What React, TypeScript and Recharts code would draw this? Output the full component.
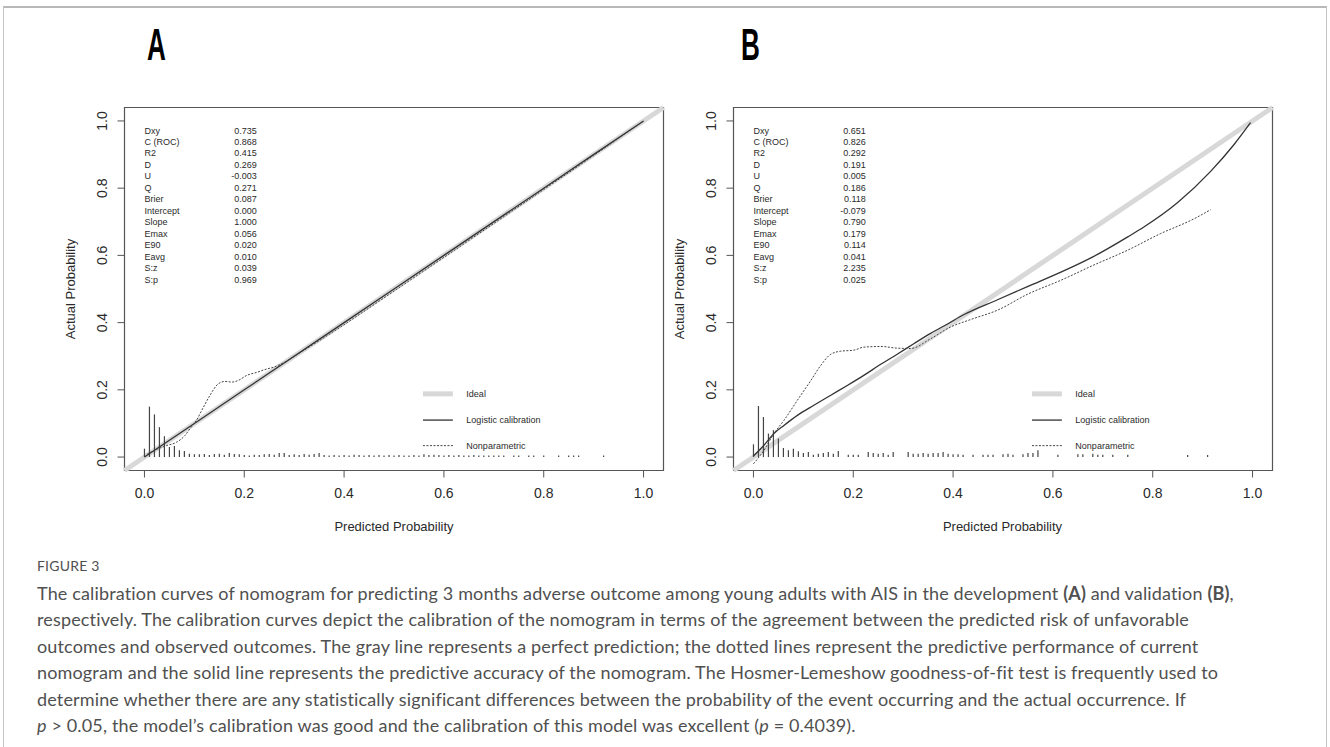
import React from "react";
import {
  ComposedChart,
  Line,
  XAxis,
  YAxis,
  ReferenceArea,
  ReferenceLine,
  ReferenceDot,
} from "recharts";

const ticks = [0, 0.2, 0.4, 0.6, 0.8, 1.0];

const statNames = ["Dxy", "C (ROC)", "R2", "D", "U", "Q", "Brier", "Intercept", "Slope", "Emax", "E90", "Eavg", "S:z", "S:p"];
const statsA = ["0.735", "0.868", "0.415", "0.269", "-0.003", "0.271", "0.087", "0.000", "1.000", "0.056", "0.020", "0.010", "0.039", "0.969"];
const statsB = ["0.651", "0.826", "0.292", "0.191", "0.005", "0.186", "0.118", "-0.079", "0.790", "0.179", "0.114", "0.041", "2.235", "0.025"];

const legendNames = ["Ideal", "Logistic calibration", "Nonparametric"];

// panel A (development)
const logisticAX = [0, 0.2, 0.4, 0.6, 0.8, 1.0];
const logisticAY = [0, 0.2, 0.4, 0.6, 0.8, 1.0];
const loessAX = [0.005, 0.02, 0.044, 0.064, 0.081, 0.091, 0.104, 0.118, 0.131, 0.148, 0.161, 0.175, 0.188, 0.205, 0.225, 0.245, 0.258, 0.278, 0.32, 0.4, 0.5, 0.6, 0.7, 0.8, 0.9, 1.0];
const loessAY = [0.008, 0.02, 0.034, 0.044, 0.064, 0.084, 0.109, 0.148, 0.183, 0.218, 0.225, 0.223, 0.228, 0.243, 0.252, 0.262, 0.267, 0.28, 0.318, 0.394, 0.494, 0.594, 0.695, 0.796, 0.897, 1.0];
const spikeAX = [
  0.0, 0.01, 0.02, 0.03, 0.04, 0.05, 0.06, 0.07, 0.08, 0.09, 0.1, 0.11, 0.12, 0.13, 0.14, 0.15, 0.16, 0.17, 0.18, 0.19,
  0.2, 0.21, 0.22, 0.23, 0.24, 0.25, 0.26, 0.27, 0.28, 0.29, 0.3, 0.31, 0.32, 0.33, 0.34, 0.35, 0.36, 0.37, 0.38, 0.39,
  0.4, 0.41, 0.42, 0.43, 0.44, 0.45, 0.46, 0.47, 0.48, 0.49, 0.5, 0.51, 0.52, 0.53, 0.54, 0.55, 0.56, 0.57, 0.58, 0.59,
  0.6, 0.61, 0.62, 0.63, 0.64, 0.65, 0.66, 0.67, 0.68, 0.69, 0.7, 0.71, 0.72, 0.74, 0.75, 0.77, 0.78, 0.8, 0.83, 0.85,
  0.86, 0.87, 0.92,
];
const spikeAH = [
  0.025, 0.15, 0.127, 0.089, 0.062, 0.03, 0.033, 0.02, 0.018, 0.01, 0.008, 0.008, 0.009, 0.006, 0.009, 0.01, 0.007, 0.012, 0.009, 0.008,
  0.006, 0.005, 0.007, 0.006, 0.008, 0.009, 0.007, 0.012, 0.012, 0.006, 0.008, 0.006, 0.009, 0.007, 0.009, 0.012, 0.006, 0.005, 0.006, 0.005,
  0.006, 0.005, 0.007, 0.006, 0.005, 0.006, 0.005, 0.006, 0.005, 0.006, 0.005, 0.006, 0.005, 0.005, 0.006, 0.005, 0.008, 0.006, 0.007, 0.006,
  0.005, 0.006, 0.005, 0.006, 0.005, 0.005, 0.006, 0.005, 0.005, 0.005, 0.005, 0.005, 0.005, 0.005, 0.005, 0.005, 0.005, 0.005, 0.005, 0.005,
  0.005, 0.005, 0.005,
];

// panel B (validation)
const logisticBX = [0.0, 0.021, 0.041, 0.061, 0.088, 0.121, 0.155, 0.188, 0.221, 0.255, 0.288, 0.322, 0.355, 0.389, 0.422, 0.489, 0.549, 0.616, 0.682, 0.75, 0.783, 0.85, 0.916, 0.963, 0.996];
const logisticBY = [0.003, 0.035, 0.07, 0.094, 0.124, 0.154, 0.184, 0.213, 0.243, 0.276, 0.306, 0.338, 0.368, 0.396, 0.424, 0.468, 0.507, 0.55, 0.597, 0.655, 0.685, 0.757, 0.85, 0.93, 0.995];
const loessBX = [0.0, 0.021, 0.041, 0.061, 0.088, 0.115, 0.135, 0.155, 0.175, 0.201, 0.221, 0.255, 0.288, 0.315, 0.355, 0.395, 0.435, 0.489, 0.55, 0.616, 0.68, 0.749, 0.816, 0.883, 0.916];
const loessBY = [-0.02, 0.02, 0.07, 0.109, 0.169, 0.228, 0.273, 0.306, 0.315, 0.318, 0.327, 0.329, 0.324, 0.323, 0.352, 0.387, 0.409, 0.437, 0.485, 0.526, 0.57, 0.615, 0.665, 0.709, 0.736];
const spikeBX = [
  0.0, 0.01, 0.02, 0.03, 0.04, 0.05, 0.06, 0.07, 0.08, 0.09, 0.1, 0.11, 0.12, 0.13, 0.14, 0.15, 0.16, 0.17, 0.19, 0.2,
  0.21, 0.23, 0.24, 0.25, 0.26, 0.27, 0.28, 0.31, 0.32, 0.33, 0.34, 0.35, 0.36, 0.37, 0.38, 0.39, 0.4, 0.41, 0.42, 0.44,
  0.46, 0.47, 0.48, 0.5, 0.51, 0.52, 0.54, 0.55, 0.56, 0.57, 0.61, 0.65, 0.66, 0.68, 0.69, 0.7, 0.72, 0.75, 0.87, 0.91,
];
const spikeBH = [
  0.038, 0.152, 0.119, 0.07, 0.08, 0.055, 0.027, 0.02, 0.025, 0.017, 0.012, 0.015, 0.007, 0.01, 0.012, 0.015, 0.01, 0.018, 0.007, 0.007,
  0.007, 0.015, 0.012, 0.01, 0.012, 0.007, 0.015, 0.015, 0.01, 0.01, 0.012, 0.01, 0.012, 0.012, 0.015, 0.01, 0.008, 0.008, 0.007, 0.007,
  0.007, 0.007, 0.007, 0.008, 0.01, 0.007, 0.008, 0.012, 0.012, 0.02, 0.007, 0.008, 0.008, 0.01, 0.007, 0.007, 0.007, 0.007, 0.006, 0.006,
];

const LO = -0.04;
const HI = 1.04;
const AXIS_FONT = "'Liberation Sans', Arial, sans-serif";
const INK = "#2a2a2a";
const IDEAL = "#d8d8d8";

const XTick = (p: any) => (
  <text x={p.x} y={p.y} dy={18} textAnchor="middle" fontSize={14} fill={INK} fontFamily={AXIS_FONT}>
    {p.payload.value.toFixed(1)}
  </text>
);

const YTick = (p: any) => {
  const x = p.x - 8.5;
  return (
    <text x={x} y={p.y} transform={`rotate(-90, ${x}, ${p.y})`} textAnchor="middle" fontSize={14} fill={INK} fontFamily={AXIS_FONT}>
      {p.payload.value.toFixed(1)}
    </text>
  );
};

const smallText = (value: string, anchor: "start" | "end") => (p: any) => (
  <text x={p.cx} y={p.cy} dy="0.35em" textAnchor={anchor} fontSize={9} fill={INK} fontFamily={AXIS_FONT}>
    {value}
  </text>
);

type PanelProps = {
  stats: string[];
  spikeX: number[];
  spikeH: number[];
  logX: number[];
  logY: number[];
  loessX: number[];
  loessY: number[];
};

const CalibrationPanel = ({ stats, spikeX, spikeH, logX, logY, loessX, loessY }: PanelProps) => {
  const logData = logX.map((x, i) => ({ x, y: logY[i] }));
  const loessData = loessX.map((x, i) => ({ x, y: loessY[i] }));
  const legendRows = [0.188, 0.11, 0.034];

  return (
    <ComposedChart width={640} height={460} margin={{ top: 17.5, right: 26.5, left: 14.5, bottom: 39.5 }}>
      <XAxis
        type="number"
        dataKey="x"
        domain={[LO, HI]}
        allowDataOverflow
        ticks={ticks}
        axisLine={false}
        tickSize={7}
        tickLine={{ stroke: "#555" }}
        height={40}
        tick={XTick}
      />
      <YAxis
        type="number"
        domain={[LO, HI]}
        allowDataOverflow
        ticks={ticks}
        axisLine={false}
        tickSize={7}
        tickLine={{ stroke: "#555" }}
        width={60}
        tick={YTick}
      />
      <ReferenceLine segment={[{ x: LO, y: LO }, { x: HI, y: HI }]} stroke={IDEAL} strokeWidth={5} />
      {spikeX.map((x, i) => (
        <ReferenceLine key={"s" + i} segment={[{ x, y: 0 }, { x, y: spikeH[i] }]} stroke="#444" strokeWidth={1.2} />
      ))}
      <Line data={logData} dataKey="y" type="monotone" stroke="#333" strokeWidth={1.3} dot={false} isAnimationActive={false} />
      <Line data={loessData} dataKey="y" type="monotone" stroke="#444" strokeWidth={1} strokeDasharray="2 1.5" dot={false} isAnimationActive={false} />
      <ReferenceArea x1={LO} x2={HI} y1={LO} y2={HI} fill="none" fillOpacity={0} stroke="#555" strokeWidth={1.2} />
      {statNames.map((name, i) => (
        <ReferenceDot key={"n" + i} x={0} y={0.972 - i * 0.0342} r={0} shape={smallText(name, "start")} />
      ))}
      {stats.map((v, i) => (
        <ReferenceDot key={"v" + i} x={0.225} y={0.972 - i * 0.0342} r={0} shape={smallText(v, "end")} />
      ))}
      <ReferenceLine segment={[{ x: 0.558, y: legendRows[0] }, { x: 0.618, y: legendRows[0] }]} stroke={IDEAL} strokeWidth={5} />
      <ReferenceLine segment={[{ x: 0.558, y: legendRows[1] }, { x: 0.618, y: legendRows[1] }]} stroke="#333" strokeWidth={1.3} />
      <ReferenceLine segment={[{ x: 0.558, y: legendRows[2] }, { x: 0.618, y: legendRows[2] }]} stroke="#444" strokeWidth={1} strokeDasharray="2 1.5" />
      {legendNames.map((name, i) => (
        <ReferenceDot key={"l" + i} x={0.645} y={legendRows[i]} r={0} shape={smallText(name, "start")} />
      ))}
    </ComposedChart>
  );
};

const titleStyle: React.CSSProperties = {
  position: "absolute",
  fontFamily: AXIS_FONT,
  fontSize: 13,
  color: INK,
  whiteSpace: "nowrap",
  lineHeight: "16px",
};

const letterStyle: React.CSSProperties = {
  position: "absolute",
  top: 20,
  fontFamily: AXIS_FONT,
  fontWeight: 700,
  fontSize: 45,
  lineHeight: "50px",
  color: "#000",
  transform: "scaleX(0.58)",
  transformOrigin: "left top",
};

const captionLine: React.CSSProperties = { whiteSpace: "nowrap" };

export default function App() {
  return (
    <div style={{ position: "absolute", left: 0, top: 0, width: 1330, height: 747, background: "#fff", overflow: "hidden" }}>
      <div style={{ position: "absolute", left: 3, top: 6, width: 1322, height: 800, borderTop: "2px solid #b8b8b8", borderLeft: "1px solid #c4c4c4", borderRight: "1px solid #c4c4c4" }} />

      <div style={{ ...letterStyle, left: 147 }}>A</div>
      <div style={{ ...letterStyle, left: 741 }}>B</div>

      <div style={{ position: "absolute", left: 50, top: 90 }}>
        <CalibrationPanel stats={statsA} spikeX={spikeAX} spikeH={spikeAH} logX={logisticAX} logY={logisticAY} loessX={loessAX} loessY={loessAY} />
      </div>
      <div style={{ position: "absolute", left: 658.5, top: 90 }}>
        <CalibrationPanel stats={statsB} spikeX={spikeBX} spikeH={spikeBH} logX={logisticBX} logY={logisticBY} loessX={loessBX} loessY={loessBY} />
      </div>

      <div style={{ ...titleStyle, left: 394, top: 519, transform: "translateX(-50%)" }}>Predicted Probability</div>
      <div style={{ ...titleStyle, left: 1002.5, top: 519, transform: "translateX(-50%)" }}>Predicted Probability</div>
      <div style={{ ...titleStyle, left: 71, top: 289, transform: "translate(-50%, -50%) rotate(-90deg)" }}>Actual Probability</div>
      <div style={{ ...titleStyle, left: 680, top: 289, transform: "translate(-50%, -50%) rotate(-90deg)" }}>Actual Probability</div>

      <div style={{ position: "absolute", left: 37, top: 557, fontFamily: "Lato, 'Open Sans', sans-serif", color: "#505050" }}>
        <div style={{ fontSize: 14, lineHeight: "18px", letterSpacing: 0.2 }}>FIGURE 3</div>
        <div style={{ fontSize: 18, lineHeight: "26.4px", marginTop: 5, letterSpacing: 0.15 }}>
          <div style={captionLine}>
            The calibration curves of nomogram for predicting 3 months adverse outcome among young adults with AIS in the development <b>(A)</b> and validation <b>(B)</b>,
          </div>
          <div style={captionLine}>
            respectively. The calibration curves depict the calibration of the nomogram in terms of the agreement between the predicted risk of unfavorable
          </div>
          <div style={captionLine}>
            outcomes and observed outcomes. The gray line represents a perfect prediction; the dotted lines represent the predictive performance of current
          </div>
          <div style={captionLine}>
            nomogram and the solid line represents the predictive accuracy of the nomogram. The Hosmer-Lemeshow goodness-of-fit test is frequently used to
          </div>
          <div style={captionLine}>
            determine whether there are any statistically significant differences between the probability of the event occurring and the actual occurrence. If
          </div>
          <div style={captionLine}>
            <i>p</i> &gt; 0.05, the model’s calibration was good and the calibration of this model was excellent (<i>p</i> = 0.4039).
          </div>
        </div>
      </div>
    </div>
  );
}
